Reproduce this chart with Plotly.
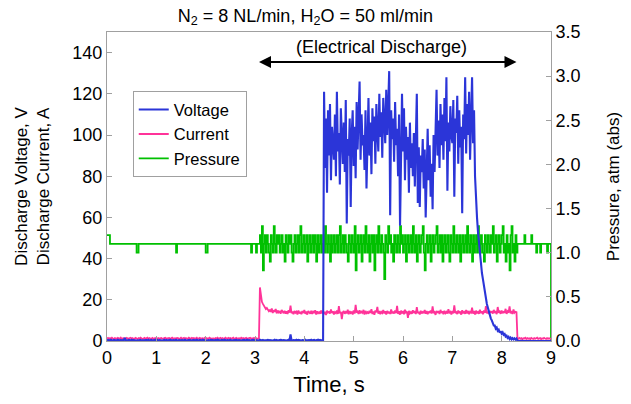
import plotly.graph_objects as go

# sample grid: 0.00 .. 9.00 s every 0.02 s (451 samples)
time_s = [round(0.02 * i, 2) for i in range(451)]

voltage_V = [
    # 0.00 - 4.38 s (no discharge)
    0.3,0.5,0.2,0.4,0.6,0.3,0.2,0.5,0.4,0.3,0.2,0.6,0.4,0.3,0.5,0.2,0.4,0.3,1.5,0.4,
    0.3,0.2,0.5,0.4,0.3,0.6,0.2,0.4,0.3,0.5,0.2,0.4,0.3,0.5,0.6,0.2,0.3,0.4,0.2,0.5,
    0.4,0.3,0.6,0.2,0.4,0.5,0.3,0.2,0.4,0.6,0.3,0.5,0.2,0.4,0.3,0.5,0.4,0.2,0.6,0.3,
    0.5,0.2,0.4,0.3,0.6,0.4,0.2,0.5,0.3,0.4,0.6,0.2,0.3,0.5,0.4,0.2,0.5,0.3,0.4,0.6,
    0.2,0.4,0.3,0.5,0.6,0.2,0.4,0.3,0.5,0.2,0.4,0.6,0.3,0.2,0.5,0.4,0.3,0.6,0.2,0.4,
    0.3,0.5,0.2,0.4,0.3,0.6,0.5,0.2,0.4,0.3,0.5,0.2,0.6,0.4,0.3,0.2,0.5,0.4,0.3,0.6,
    0.4,0.2,0.5,0.3,0.4,0.6,0.2,0.3,0.5,0.4,0.2,0.6,0.3,0.5,0.4,0.2,0.3,0.6,0.4,0.5,
    0.2,0.4,0.6,0.3,0.5,0.2,0.4,0.3,0.6,0.5,0.2,0.4,0.3,0.5,0.2,0.6,0.4,0.3,0.5,0.2,
    0.4,0.3,0.5,0.6,0.2,0.4,0.3,0.5,0.2,0.4,0.6,0.3,0.5,0.2,0.4,0.3,0.6,0.5,0.2,0.4,
    0.3,0.5,0.2,0.4,0.6,0.3,3.2,0.4,0.2,0.5,0.3,0.4,0.6,0.2,0.5,0.3,0.4,0.2,0.5,0.3,
    0.4,0.6,0.2,0.3,0.5,0.4,0.2,0.6,0.3,0.4,0.5,0.2,0.4,0.3,0.6,0.2,0.5,0.3,0.4,0.3,
    # 4.40 - 7.44 s (discharge)
    121,84,108,72,112,90,115,78,104,96,
    88,110,80,121,92,101,76,113,94,86,
    106,82,117,57,98,90,108,65,100,112,
    85,104,79,116,93,108,126,88,110,95,
    100,83,112,74,104,118,90,106,81,113,
    97,109,86,115,102,92,120,99,111,89,
    118,104,96,122,100,114,131,61,112,98,
    108,87,116,95,103,80,110,56,98,120,
    92,113,78,104,88,99,72,106,84,96,
    80,101,75,110,120,67,94,65,90,82,
    98,74,93,60,88,103,78,95,70,86,
    64,100,82,112,122,90,107,84,115,95,
    110,88,118,97,128,73,106,92,114,100,
    96,117,70,108,101,119,86,112,94,104,
    62,110,98,128,91,115,100,121,88,108,
    128,96,112,
    # 7.46 - 8.30 s (decay)
    80,68,60,53,47,42,37,33,30,26,
    23.5,21,18,16,14,12.5,11,10,9,7.5,
    7.5,6,6.5,5,5.5,4,4.8,3.6,4.2,3.0,
    3.4,2.2,2.6,1.5,2.0,1.0,1.6,0.8,1.4,0.8,
    1.3,0.7,1.2,
    # 8.32 - 9.00 s
    0.1,0.0,0.1,0.0,0.0,0.1,0.0,0.0,0.1,0.0,
    0.0,0.1,0.0,0.0,0.1,0.0,0.0,0.1,0.0,0.0,
    0.1,0.0,0.0,0.1,0.0,0.0,0.1,0.0,0.0,0.1,
    0.0,0.0,0.1,0.0,0.0,
]

current_A = [
    # 0.00 - 3.08 s
    1.2,1.5,1.0,1.4,1.1,1.6,1.2,0.9,1.4,1.3,1.0,1.5,1.2,1.1,1.6,1.0,1.3,1.4,1.1,1.2,
    1.5,1.0,1.3,1.2,1.6,1.1,1.4,0.9,1.3,1.5,1.2,1.0,1.4,1.1,1.6,1.3,1.0,1.2,1.5,1.1,
    1.3,1.6,1.0,1.4,1.2,1.1,1.5,0.9,1.3,1.2,1.6,1.0,1.4,1.1,1.3,1.5,1.2,1.0,1.4,1.6,
    1.1,1.3,1.2,1.5,1.0,1.4,1.6,1.1,1.2,1.3,1.0,1.5,1.4,0.9,1.2,1.6,1.1,1.3,1.5,1.0,
    1.4,1.2,1.1,1.6,1.3,1.0,1.5,1.2,1.4,1.1,1.3,1.6,1.0,1.2,1.5,1.1,1.4,1.3,0.9,1.5,
    1.2,1.4,1.0,1.3,1.6,1.1,1.2,1.5,1.3,1.0,1.4,1.2,1.6,1.1,1.3,1.5,1.0,1.4,1.2,1.1,
    1.6,1.3,1.0,1.5,1.2,1.4,1.1,1.3,1.6,1.0,1.2,1.5,1.1,1.4,1.3,1.0,1.6,1.2,1.4,1.1,
    1.3,1.5,1.0,1.2,1.4,1.6,1.1,1.3,1.0,1.5,1.2,1.4,1.1,1.3,1.2,
    # 3.10 - 3.28 s (ignition peak)
    26,21,19,18,17,16.5,15.5,16,15,14.5,
    # 3.30 - 8.30 s
    15.2,14.1,15.8,13.6,14.9,14.2,15.5,13.4,14.8,13.9,14.6,13.2,15.1,14.0,13.5,14.7,13.3,14.4,13.1,14.9,13.8,17.2,13.5,14.3,13.0,
    14.6,13.7,14.2,12.9,14.8,13.4,14.1,13.0,14.5,13.6,15.0,13.2,14.3,12.8,14.6,13.9,13.3,14.7,13.1,14.2,13.6,14.9,12.9,14.4,13.5,
    14.0,13.2,14.8,13.4,14.5,13.0,14.2,12.6,14.7,13.8,14.1,13.3,15.3,13.6,14.4,12.9,14.0,13.5,14.8,13.1,16.9,13.4,14.2,10.6,13.9,
    14.6,13.2,14.1,13.7,15.2,13.0,14.5,13.6,14.0,12.9,14.8,13.3,17.5,13.8,14.3,13.1,14.9,13.4,14.2,13.7,15.1,12.8,14.6,13.5,14.0,
    13.2,14.7,13.6,15.4,13.1,14.3,12.7,14.8,13.9,16.6,13.3,14.5,13.0,14.1,13.6,15.0,13.4,14.4,12.9,14.6,13.5,14.2,13.1,15.3,13.7,
    14.0,13.3,14.8,13.5,17.0,13.2,14.4,12.8,14.7,13.6,14.1,13.0,15.2,13.9,14.3,11.2,14.6,13.4,14.0,13.2,14.9,13.6,14.5,13.1,16.4,
    13.5,14.2,12.9,14.7,13.4,14.1,13.8,15.0,13.2,14.5,13.0,14.3,13.6,14.8,13.3,16.8,13.5,14.0,12.7,14.6,13.9,14.2,13.1,15.1,13.6,
    14.4,13.0,14.7,13.5,14.1,13.3,15.4,13.8,14.2,12.9,14.6,13.4,17.3,13.6,14.0,13.1,14.8,13.5,14.3,12.8,14.9,13.7,14.1,13.2,15.0,
    13.4,14.6,13.0,14.2,13.8,16.2,13.3,14.5,12.9,14.7,13.6,14.1,13.2,15.2,13.5,14.4,13.0,14.8,13.7,16.9,13.4,14.3,13.1,14.6,13.9,
    14.2,13.3,15.1,13.6,14.5,13.0,16.5,13.7,14.3,13.2,14.8,13.5,14.1,13.9,15.6,13.2,14.4,13.8,16.8,13.4,14.6,13.1,15.3,13.7,14.2,
    14.0,
    # 8.32 - 9.00 s
    1.3,1.0,1.5,1.1,1.4,0.9,1.3,1.2,1.6,1.0,
    1.4,1.1,1.3,0.9,1.5,1.2,1.0,1.4,1.1,1.3,
    1.6,1.0,1.2,1.4,0.9,1.3,1.1,1.5,1.2,1.0,
    1.4,1.1,1.3,1.2,1.0,
]

pressure_atm = [
    # 0.00 - 3.08 s
    1.2,1.2,1.2,1.1,1.1,1.1,1.1,1.1,1.1,1.1,1.1,1.1,1.1,1.1,1.1,1.1,1.1,1.1,1.1,1.1,
    1.1,1.1,1.1,1.1,1.1,1.1,1.1,1.1,1.1,1.1,1.0,1.0,1.1,1.1,1.1,1.1,1.1,1.1,1.1,1.1,
    1.1,1.1,1.1,1.1,1.1,1.1,1.1,1.1,1.1,1.1,1.1,1.1,1.1,1.1,1.1,1.1,1.1,1.1,1.1,1.1,
    1.1,1.1,1.1,1.1,1.1,1.1,1.1,1.1,1.1,1.1,1.0,1.1,1.1,1.1,1.1,1.1,1.1,1.1,1.1,1.1,
    1.1,1.1,1.1,1.1,1.1,1.1,1.1,1.1,1.1,1.1,1.1,1.1,1.1,1.1,1.1,1.1,1.1,1.1,1.1,1.1,
    1.0,1.0,1.1,1.1,1.1,1.1,1.1,1.1,1.1,1.1,1.1,1.1,1.1,1.1,1.1,1.1,1.1,1.1,1.1,1.1,
    1.1,1.1,1.1,1.1,1.1,1.1,1.1,1.1,1.1,1.1,1.1,1.1,1.1,1.1,1.1,1.1,1.1,1.1,1.1,1.1,
    1.1,1.1,1.1,1.1,1.1,1.1,1.0,1.1,1.1,1.1,1.1,1.0,1.1,1.1,1.1,
    # 3.10 - 8.30 s
    1.2,1.0,1.3,0.8,1.1,1.2,1.0,1.2,1.1,1.0,0.9,1.2,1.1,1.0,1.3,1.1,1.0,1.2,1.1,1.2,1.0,1.1,1.2,1.0,1.1,
    0.9,1.2,1.1,1.0,1.2,1.1,1.2,1.0,0.9,1.1,1.2,1.0,1.1,1.2,1.0,1.2,1.3,1.0,1.1,1.2,1.0,1.1,1.2,0.9,1.1,
    1.2,1.0,1.1,1.2,1.0,1.2,1.1,0.9,1.2,1.0,1.1,1.2,1.0,1.1,1.2,1.0,1.3,1.1,1.0,1.2,1.1,0.9,1.2,1.0,1.1,
    1.2,1.0,1.1,1.2,1.0,1.2,1.3,1.0,1.1,1.2,1.0,1.2,1.1,1.0,0.9,1.2,1.1,1.0,1.2,1.1,1.0,1.3,0.8,1.1,1.2,
    1.0,1.1,1.2,0.9,1.1,1.2,1.0,1.3,1.1,1.0,1.2,0.9,1.1,1.2,1.0,1.2,0.8,1.1,1.2,1.0,1.3,1.1,1.0,1.2,1.1,
    1.0,0.7,1.2,1.1,1.0,1.3,1.1,1.2,1.0,1.1,0.9,1.2,1.1,1.0,1.2,1.1,1.0,1.3,1.1,1.2,1.0,1.1,1.2,0.9,1.1,
    1.2,1.0,1.1,1.2,1.0,1.3,1.1,1.0,1.2,0.9,1.1,1.2,1.0,1.1,1.2,1.3,1.0,0.8,1.1,1.2,1.0,1.1,1.2,0.9,1.1,
    1.2,1.0,1.1,1.2,1.3,1.0,1.1,1.2,1.0,1.2,0.9,1.1,1.2,1.0,1.1,1.2,1.0,0.9,1.2,1.1,1.0,1.3,1.1,1.0,1.2,
    1.1,1.0,1.2,0.9,1.1,1.2,1.0,1.1,1.2,1.0,1.3,1.1,1.0,1.2,1.1,0.9,1.2,1.0,1.1,1.2,1.0,1.3,1.1,1.0,1.2,
    1.1,1.0,0.9,1.2,1.1,1.0,1.2,1.1,1.0,1.2,1.1,1.3,1.0,1.1,1.2,0.9,1.1,1.2,1.0,1.1,1.2,1.3,1.0,1.1,0.9,
    1.2,1.0,1.1,0.8,1.2,1.3,1.0,1.1,0.9,1.2,1.0,
    # 8.32 - 9.00 s
    1.1,1.1,1.1,1.1,1.1,1.1,1.1,1.2,1.1,1.1,1.1,1.1,1.1,1.1,1.2,1.1,1.1,
    1.1,1.1,1.0,1.1,1.1,1.1,1.0,1.1,1.1,1.1,1.1,1.1,1.1,1.0,1.1,1.1,1.1,
    0.0,
]

assert len(voltage_V) == len(time_s), len(voltage_V)
assert len(current_A) == len(time_s), len(current_A)
assert len(pressure_atm) == len(time_s), len(pressure_atm)

left_ticks = [0, 20, 40, 60, 80, 100, 120, 140]
right_ticks = [0.0, 0.5, 1.0, 1.5, 2.0, 2.5, 3.0, 3.5]
x_ticks = [0, 1, 2, 3, 4, 5, 6, 7, 8, 9]
discharge_start, discharge_end = 3.05, 8.3

FONT = "Liberation Sans, Arial, sans-serif"
AX = "#A0A0A0"

fig = go.Figure()
fig.add_trace(go.Scatter(x=time_s, y=pressure_atm, mode="lines", name="Pressure",
                         line=dict(color="#00C000", width=1.8, shape="hv"),
                         yaxis="y", legendrank=3))
fig.add_trace(go.Scatter(x=time_s, y=current_A, mode="lines", name="Current",
                         line=dict(color="#FF3399", width=1.8), yaxis="y2", legendrank=2))
fig.add_trace(go.Scatter(x=time_s, y=voltage_V, mode="lines", name="Voltage",
                         line=dict(color="#2B35D8", width=2.1), yaxis="y2", legendrank=1))

fig.update_layout(
    width=631, height=404,
    margin=dict(l=107, r=80, t=32, b=63),
    paper_bgcolor="white", plot_bgcolor="white",
    font=dict(family=FONT, size=18, color="black"),
    title=dict(text="N<sub>2</sub> = 8 NL/min, H<sub>2</sub>O = 50 ml/min",
               x=0.484, xref="container", xanchor="center",
               y=0.962, yref="container", yanchor="middle",
               font=dict(size=18)),
    showlegend=True,
    legend=dict(x=0.058, y=0.808, xanchor="left", yanchor="top",
                bgcolor="white", bordercolor="#A0A0A0", borderwidth=1,
                font=dict(size=16.5), itemwidth=30, tracegroupgap=0),
    xaxis=dict(range=[0, 9], tickvals=x_ticks, ticks="inside", ticklen=5,
               tickcolor=AX, showline=True, linecolor=AX, linewidth=1, mirror=True,
               showgrid=False, zeroline=False, automargin=False,
               title=dict(text="Time, s", standoff=10)),
    yaxis=dict(side="right", range=[0, 3.5], tickvals=right_ticks, tickformat=".1f",
               ticks="inside", ticklen=5, tickcolor=AX, showline=True, linecolor=AX,
               showgrid=False, zeroline=False, automargin=False,
               title=dict(text="Pressure, atm (abs)", font=dict(size=17), standoff=27)),
    yaxis2=dict(side="left", overlaying="y", range=[0, 150], tickvals=left_ticks,
                ticks="inside", ticklen=5, tickcolor=AX, showline=True, linecolor=AX,
                showgrid=False, zeroline=False, automargin=False,
                title=dict(text="Discharge Voltage, V<br>Discharge Current, A",
                           font=dict(size=17), standoff=18)),
)

fig.add_annotation(x=5.57, y=0.951, xref="x", yref="paper", text="(Electrical Discharge)",
                   showarrow=False, font=dict(size=18), yanchor="middle")
fig.add_annotation(x=discharge_end, y=0.903, xref="x", yref="paper",
                   ax=discharge_start, ay=0, axref="x", ayref="pixel",
                   text="", showarrow=True, arrowside="end+start",
                   arrowhead=2, startarrowhead=2, arrowsize=1.2, startarrowsize=1.2,
                   arrowwidth=2, arrowcolor="black")

# remove the browser's default 8px page margin so the figure fills the window exactly
fig.write_html("out.html", config={"displayModeBar": False},
               post_script="document.body.style.margin='0';")
